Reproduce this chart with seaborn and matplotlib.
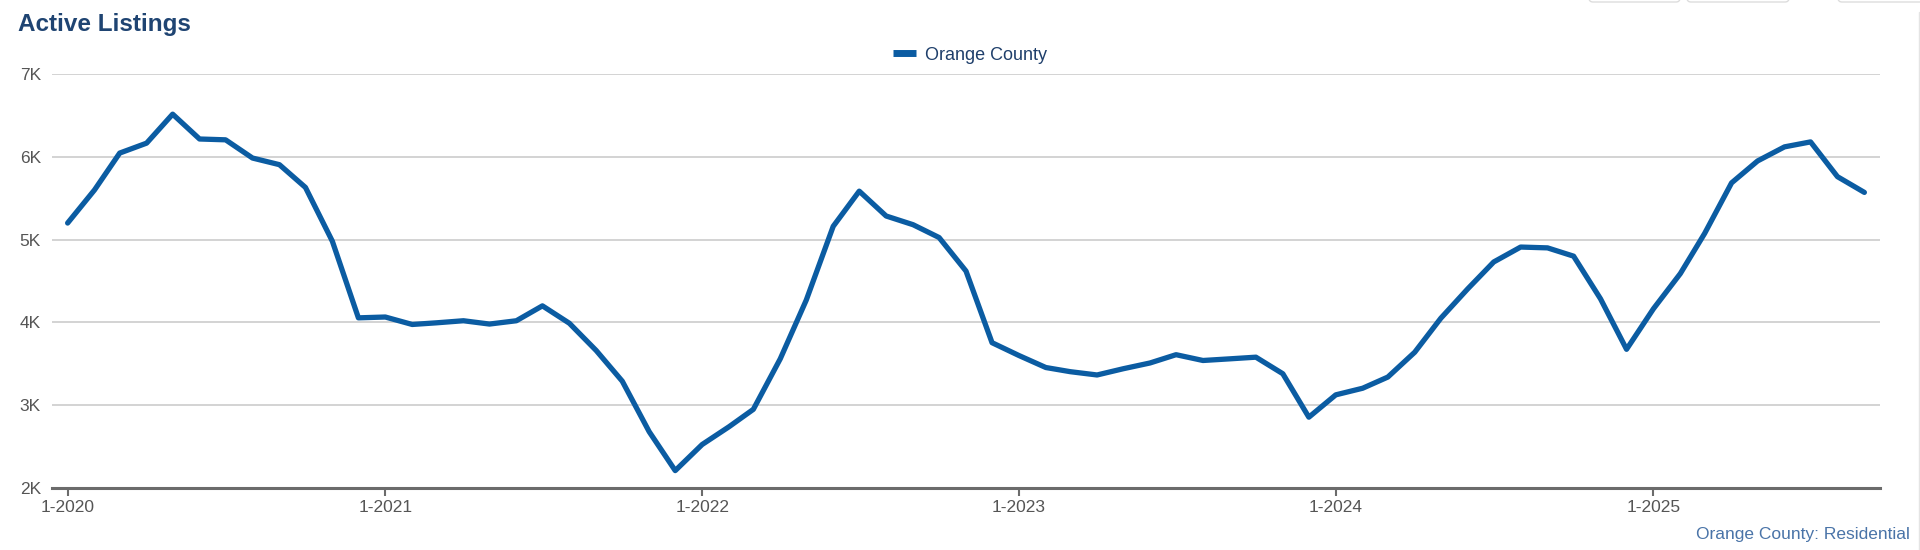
import numpy as np
import pandas as pd
import seaborn as sns
import matplotlib.pyplot as plt
import matplotlib.dates as mdates
from matplotlib.ticker import FuncFormatter
from matplotlib.patches import FancyBboxPatch
from matplotlib.lines import Line2D
from matplotlib.transforms import IdentityTransform


# monthly active listings, Jan 2020 .. Sep 2025
months = pd.date_range('2020-01-01', periods=69, freq='MS')
listings = [
    5200, 5600, 6045, 6165, 6515, 6215, 6205, 5985, 5905, 5630, 4980, 4055,   # 2020
    4065, 3975, 3995, 4020, 3980, 4020, 4200, 3990, 3660, 3290, 2680, 2210,   # 2021
    2525, 2740, 2950, 3560, 4270, 5160, 5585, 5285, 5180, 5025, 4620, 3755,   # 2022
    3600, 3455, 3405, 3365, 3440, 3510, 3610, 3540, 3560, 3580, 3380, 2855,   # 2023
    3125, 3205, 3340, 3640, 4050, 4405, 4730, 4910, 4900, 4800, 4285, 3675,   # 2024
    4165, 4590, 5075, 5685, 5950, 6120, 6180, 5760, 5570,                     # 2025
]
area = 'Orange County'
yticks = [2000, 3000, 4000, 5000, 6000, 7000]
ytick_labels = ['2K', '3K', '4K', '5K', '6K', '7K']

line_color = '#0b5ca2'

sns.set_theme(style='white')
plt.rcParams['font.family'] = ['Liberation Sans', 'DejaVu Sans']

df = pd.DataFrame({'month': months, 'listings': listings})

fig = plt.figure(figsize=(19.2, 5.5), dpi=100)
ax = fig.add_axes([52/1920, 1-488/550, (1880-52)/1920, (488-74)/550])

sns.lineplot(data=df, x='month', y='listings', color=line_color, lw=3.8,
             label=area, ax=ax, solid_joinstyle='round', solid_capstyle='round')

ax.set_ylim(2000, 7000)
ax.set_yticks(yticks)
ax.set_yticklabels(ytick_labels)
ax.set_xlim(pd.Timestamp('2019-12-14'), pd.Timestamp('2025-09-19'))
ax.xaxis.set_major_locator(mdates.YearLocator())
ax.xaxis.set_major_formatter(FuncFormatter(
    lambda v, p: '{}-{}'.format(mdates.num2date(v).month, mdates.num2date(v).year)))
ax.set_xlabel('')
ax.set_ylabel('')

ax.grid(axis='y', color='#c8c8c8', lw=1.1)
ax.grid(axis='x', visible=False)
for s in ['left', 'top', 'right']:
    ax.spines[s].set_visible(False)
ax.spines['bottom'].set_color('#6b6b6b')
ax.spines['bottom'].set_linewidth(2.2)

ax.tick_params(axis='x', bottom=True, length=6, width=1.5, color='#6b6b6b',
               pad=3, labelsize=12.5, labelcolor='#555555')
ax.tick_params(axis='y', left=False, length=0, pad=8, labelsize=12.5, labelcolor='#555555')

leg = ax.legend(loc='center', bbox_to_anchor=(970/1920, 1-55/550), bbox_transform=fig.transFigure,
                frameon=False, handlelength=1.3, handletextpad=0.5, fontsize=13,
                labelcolor='#1f3f6b')
leg.get_lines()[0].set_linewidth(5)
leg.get_lines()[0].set_solid_capstyle('butt')

fig.text(18/1920, 1-25/550, 'Active Listings', fontsize=17.5, fontweight='bold',
         color='#1f4472', ha='left', va='center')
fig.text(1910/1920, 1-535/550, 'Orange County: Residential', fontsize=12.5,
         color='#4a74a8', ha='right', va='center')

# bits of the page controls peeking in at the top right
for x0, x1 in [(1589, 1680), (1687, 1789), (1838, 1940)]:
    fig.add_artist(FancyBboxPatch((x0, 548), x1 - x0, 20,
                                  boxstyle='round,pad=0,rounding_size=4',
                                  transform=IdentityTransform(), fc='white',
                                  ec='#dddddd', lw=1))
fig.add_artist(Line2D([1918.5, 1918.5], [0, 538], transform=IdentityTransform(),
                      color='#e4e4e4', lw=1))

fig.savefig('out.png', dpi=100)
